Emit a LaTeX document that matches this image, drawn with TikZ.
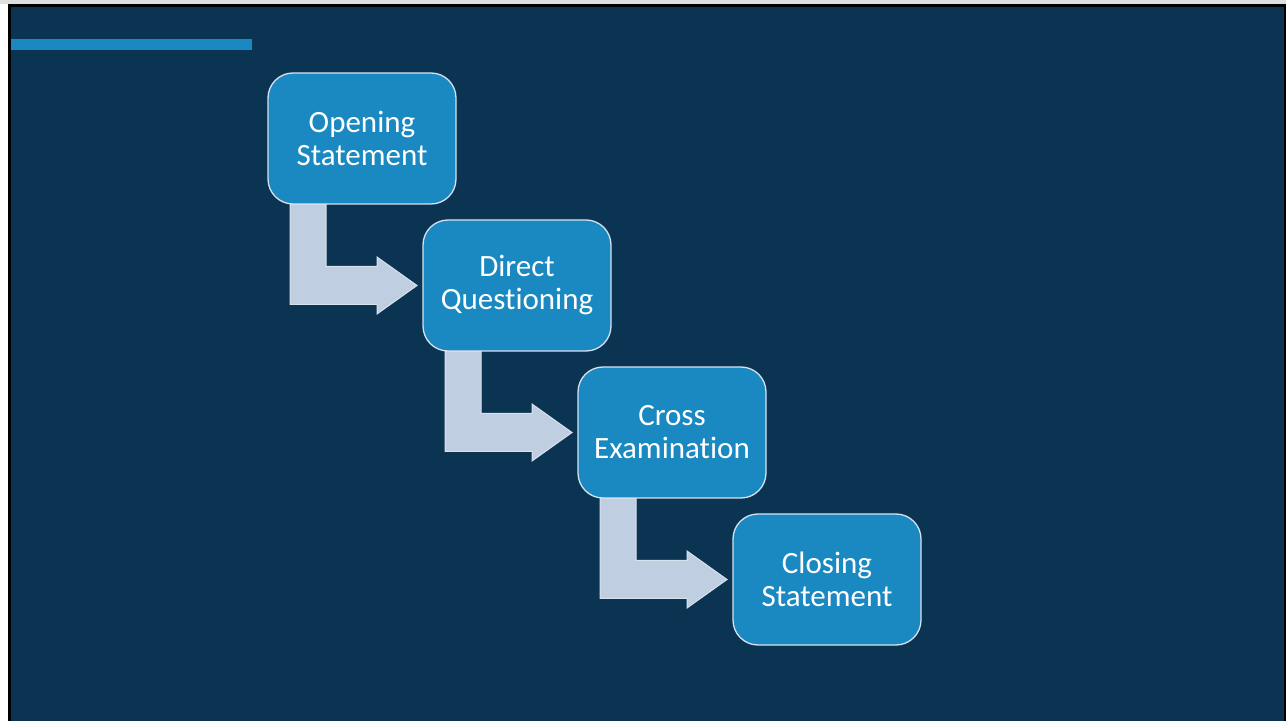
\documentclass[tikz,border=0pt]{standalone}
\usepackage{fontspec}
\setmainfont{Carlito}[Ligatures=NoCommon]
\usepackage{tikz}
\usetikzlibrary{calc}

\definecolor{slideBg}{RGB}{11,51,82}      % navy slide
\definecolor{stepBlue}{RGB}{26,136,193}   % step boxes and title bar
\definecolor{arrowFill}{RGB}{191,206,224} % bent arrows
\definecolor{edgeLine}{RGB}{215,226,238}  % thin outlines

\tikzset{
  stepbox/.style={draw=edgeLine, line width=1.3pt, fill=stepBlue, rounded corners=25pt,
    minimum width=188pt, minimum height=131pt, align=center, text=white,
    font=\fontsize{31}{33}\selectfont},
  bentarrow/.style={fill=arrowFill, draw=edgeLine, line width=1pt, line join=miter}
}

\begin{document}
\begin{tikzpicture}[x=1pt, y=1pt]
  % Slide frame
  \fill[white] (0,0) rectangle (1286,721);
  \fill[gray!25] (0,717) rectangle (1286,721);
  \fill[black] (8,0) rectangle (1286,717);
  \fill[slideBg] (11,0) rectangle (1284,714);
  \useasboundingbox (0,0) rectangle (1286,721);

  % Title bar
  \fill[stepBlue] (11,671) rectangle (252,682);

  % Step centres, going down to the right
  \foreach \i in {1,...,4} {
    \coordinate (c\i) at ({362+155*(\i-1)}, {582.5-147*(\i-1)});
  }

  % Bent arrows from one box to the next
  \foreach \i/\j in {1/2, 2/3, 3/4} {
    \path (c\i) ++(-94,-65.5) coordinate (b\i)
          (c\j) ++(-94,0) coordinate (w\j);
    \filldraw[bentarrow] ($(b\i)+(22,0)$) -- ($(b\i)+(58,0)$)
      |- ($(w\j)+(-46,19)$) -- ++(0,9.5) -- ($(w\j)+(-6,0)$)
      -- ($(w\j)+(-46,-28.5)$) -- ++(0,9.5)
      -| ($(b\i)+(22,0)$) -- cycle;
  }

  \node[stepbox] (s1) at (c1) {Opening\\Statement};
  \node[stepbox] (s2) at (c2) {Direct\\Questioning};
  \node[stepbox] (s3) at (c3) {Cross\\Examination};
  \node[stepbox] (s4) at (c4) {Closing\\Statement};
\end{tikzpicture}
\end{document}
